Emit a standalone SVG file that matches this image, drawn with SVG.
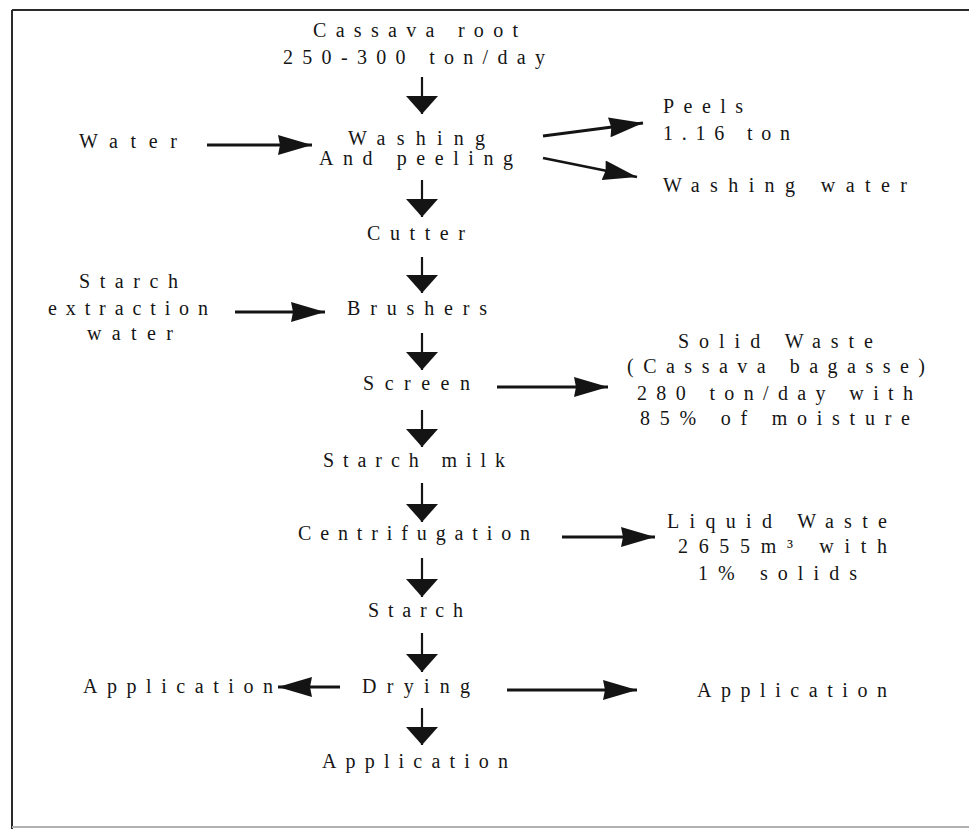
<svg xmlns="http://www.w3.org/2000/svg" width="969" height="829" viewBox="0 0 969 829">
<style>
text{font-family:"Liberation Serif","Times New Roman",serif;font-size:20px;fill:#151515;}
.sh{stroke:#141414;stroke-width:2.8;fill:none;}
.vs{stroke:#141414;stroke-width:2.2;fill:none;}
</style>
<defs>
<marker id="vh" markerUnits="userSpaceOnUse" viewBox="0 0 18 32" markerWidth="18" markerHeight="32" refX="18" refY="16" orient="auto">
<path d="M0,0 L18,16 L0,32 Z" fill="#141414"/>
</marker>
<marker id="hh" markerUnits="userSpaceOnUse" viewBox="0 0 34 20" markerWidth="34" markerHeight="20" refX="34" refY="10" orient="auto">
<path d="M0,0 L34,10 L0,20 L2,10 Z" fill="#141414"/>
</marker>
</defs>
<rect width="969" height="829" fill="#ffffff"/>
<g id="frame">
<line x1="12" y1="10" x2="969" y2="10" stroke="#2a2a2a" stroke-width="2"/>
<line x1="12" y1="10" x2="12" y2="829" stroke="#2a2a2a" stroke-width="2"/>
<line x1="12" y1="827" x2="969" y2="827" stroke="#b0b0b0" stroke-width="2"/>
</g>
<g id="connectors">
<line class="vs" x1="422" y1="77" x2="422" y2="114" marker-end="url(#vh)"/>
<line class="vs" x1="422" y1="180" x2="422" y2="217" marker-end="url(#vh)"/>
<line class="vs" x1="422" y1="257" x2="422" y2="293" marker-end="url(#vh)"/>
<line class="vs" x1="422" y1="333" x2="422" y2="370" marker-end="url(#vh)"/>
<line class="vs" x1="422" y1="410" x2="422" y2="447" marker-end="url(#vh)"/>
<line class="vs" x1="422" y1="483" x2="422" y2="522" marker-end="url(#vh)"/>
<line class="vs" x1="422" y1="558" x2="422" y2="597" marker-end="url(#vh)"/>
<line class="vs" x1="422" y1="633" x2="422" y2="672" marker-end="url(#vh)"/>
<line class="vs" x1="422" y1="708" x2="422" y2="745" marker-end="url(#vh)"/>
<line class="sh" x1="207" y1="145" x2="312" y2="145" marker-end="url(#hh)"/>
<line class="sh" x1="235" y1="312" x2="325" y2="312" marker-end="url(#hh)"/>
<line class="sh" x1="543" y1="136" x2="643" y2="123" marker-end="url(#hh)"/>
<line class="sh" x1="543" y1="158" x2="637" y2="177" marker-end="url(#hh)"/>
<line class="sh" x1="497" y1="387" x2="608" y2="387" marker-end="url(#hh)"/>
<line class="sh" x1="562" y1="537" x2="655" y2="537" marker-end="url(#hh)"/>
<line class="sh" x1="340" y1="687" x2="278" y2="687" marker-end="url(#hh)"/>
<line class="sh" x1="507" y1="690" x2="637" y2="690" marker-end="url(#hh)"/>
</g>
<g id="cassava-root">
<text x="313" y="37" textLength="205" lengthAdjust="spacing">Cassava root</text>
<text x="283" y="64" textLength="262" lengthAdjust="spacing">250-300 ton/day</text>
</g>
<g id="water"><text x="79" y="148" textLength="98" lengthAdjust="spacing">Water</text></g>
<g id="washing">
<text x="348" y="145" textLength="137" lengthAdjust="spacing">Washing</text>
<text x="319" y="165" textLength="194" lengthAdjust="spacing">And peeling</text>
</g>
<g id="peels">
<text x="663" y="113" textLength="80" lengthAdjust="spacing">Peels</text>
<text x="663" y="140" textLength="127" lengthAdjust="spacing">1.16 ton</text>
</g>
<g id="washing-water"><text x="663" y="192" textLength="244" lengthAdjust="spacing">Washing water</text></g>
<g id="cutter"><text x="367" y="240" textLength="98" lengthAdjust="spacing">Cutter</text></g>
<g id="extraction-water">
<text x="79" y="288" textLength="99" lengthAdjust="spacing">Starch</text>
<text x="48" y="315" textLength="160" lengthAdjust="spacing">extraction</text>
<text x="87" y="340" textLength="86" lengthAdjust="spacing">water</text>
</g>
<g id="brushers"><text x="347" y="315" textLength="140" lengthAdjust="spacing">Brushers</text></g>
<g id="screen"><text x="363" y="390" textLength="107" lengthAdjust="spacing">Screen</text></g>
<g id="solid-waste">
<text x="678" y="348" textLength="195" lengthAdjust="spacing">Solid Waste</text>
<text x="627" y="373" textLength="298" lengthAdjust="spacing">(Cassava bagasse)</text>
<text x="637" y="400" textLength="276" lengthAdjust="spacing">280 ton/day with</text>
<text x="640" y="425" textLength="270" lengthAdjust="spacing">85% of moisture</text>
</g>
<g id="starch-milk"><text x="323" y="467" textLength="182" lengthAdjust="spacing">Starch milk</text></g>
<g id="centrifugation"><text x="298" y="540" textLength="232" lengthAdjust="spacing">Centrifugation</text></g>
<g id="liquid-waste">
<text x="667" y="528" textLength="220" lengthAdjust="spacing">Liquid Waste</text>
<text x="678" y="553" textLength="209" lengthAdjust="spacing">2655m³ with</text>
<text x="698" y="580" textLength="159" lengthAdjust="spacing">1% solids</text>
</g>
<g id="starch"><text x="368" y="617" textLength="95" lengthAdjust="spacing">Starch</text></g>
<g id="drying"><text x="362" y="693" textLength="108" lengthAdjust="spacing">Drying</text></g>
<g id="application-left"><text x="83" y="693" textLength="190" lengthAdjust="spacing">Application</text></g>
<g id="application-right"><text x="697" y="697" textLength="190" lengthAdjust="spacing">Application</text></g>
<g id="application-bottom"><text x="322" y="768" textLength="186" lengthAdjust="spacing">Application</text></g>
</svg>
